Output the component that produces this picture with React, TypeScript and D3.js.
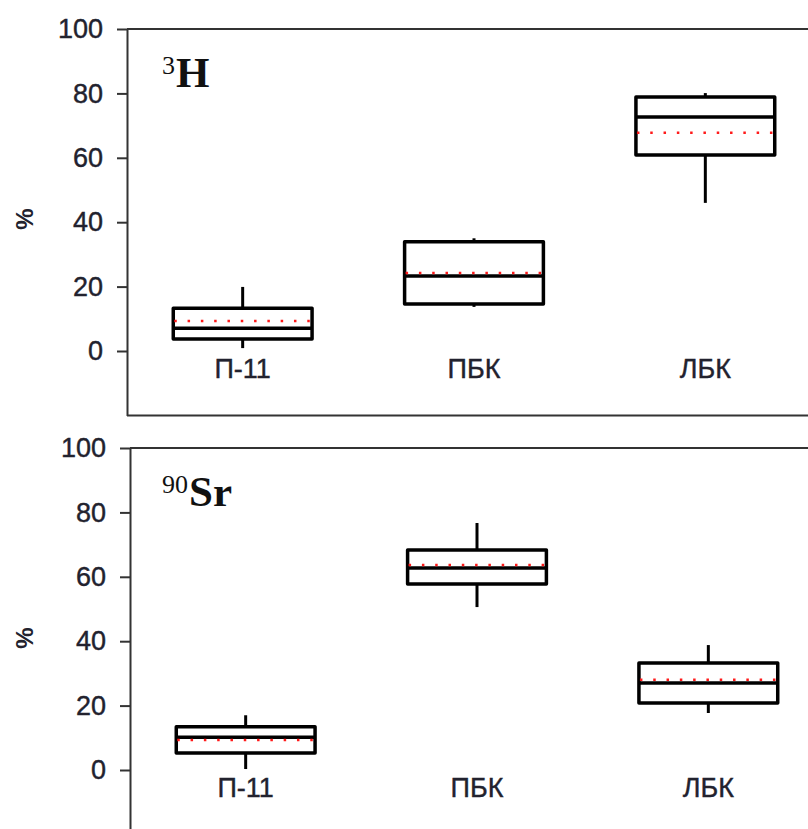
import React, { useRef, useEffect } from 'react';
import * as d3 from 'd3';

const categories = ['П-11', 'ПБК', 'ЛБК'];
const yTicks = [0, 20, 40, 60, 80, 100];

// 3H panel
const h3Low = [0.9, 13.7, 46];
const h3Q1 = [3.7, 14.6, 60.9];
const h3Median = [7.1, 23.3, 72.7];
const h3Q3 = [13.3, 33.9, 78.9];
const h3High = [19.9, 35, 80.1];
const h3Mean = [9.3, 24.2, 67.8];

// 90Sr panel
const srLow = [0.3, 50.6, 17.7];
const srQ1 = [5.3, 57.8, 20.8];
const srMedian = [10.2, 62.7, 27];
const srQ3 = [13.4, 68.3, 33.2];
const srHigh = [17, 76.7, 38.8];
const srMean = [9.3, 63.7, 28];

type Box = { cat: string; low: number; q1: number; median: number; q3: number; high: number; mean: number };

const toBoxes = (low: number[], q1: number[], median: number[], q3: number[], high: number[], mean: number[]): Box[] =>
  categories.map((cat, i) => ({ cat, low: low[i], q1: q1[i], median: median[i], q3: q3[i], high: high[i], mean: mean[i] }));

const WIDTH = 808;
const HEIGHT = 829;
const textColor = '#22222e';

const App = () => {
  const ref = useRef<SVGSVGElement>(null);

  useEffect(() => {
    const svg = d3.select(ref.current);
    svg.selectAll('*').remove();

    const panels = [
      { axisX: 127, yTop: 29, yZero: 351, mass: '3', symbol: 'H', boxes: toBoxes(h3Low, h3Q1, h3Median, h3Q3, h3High, h3Mean), bottomLine: true },
      { axisX: 130, yTop: 448, yZero: 770, mass: '90', symbol: 'Sr', boxes: toBoxes(srLow, srQ1, srMedian, srQ3, srHigh, srMean), bottomLine: false },
    ];

    panels.forEach(p => {
      const g = svg.append('g');
      const y = d3.scaleLinear()
        .domain([-20, 100])
        .range([p.yZero + (p.yZero - p.yTop) * 0.2, p.yTop]);
      const x = d3.scaleBand()
        .domain(categories)
        .range([p.axisX, p.axisX + 694]);
      const boxW = x.bandwidth() * 0.6;

      // frame lines
      g.append('line')
        .attr('x1', p.axisX).attr('x2', WIDTH)
        .attr('y1', y(100)).attr('y2', y(100))
        .attr('stroke', '#333').attr('stroke-width', 2);
      if (p.bottomLine) {
        g.append('line')
          .attr('x1', p.axisX).attr('x2', WIDTH)
          .attr('y1', y(-20)).attr('y2', y(-20))
          .attr('stroke', '#333').attr('stroke-width', 2);
      }

      g.append('g')
        .attr('transform', `translate(${p.axisX},0)`)
        .call(d3.axisLeft(y).tickValues(yTicks).tickSize(10).tickPadding(14).tickSizeOuter(0))
        .call(a => a.select('.domain').attr('stroke', '#333').attr('stroke-width', 2))
        .call(a => a.selectAll('.tick line').attr('stroke', '#333').attr('stroke-width', 2))
        .call(a => a.selectAll('.tick text')
          .attr('fill', textColor)
          .attr('stroke', textColor)
          .attr('stroke-width', 0.4)
          .style('font-family', 'Liberation Sans, Arial, sans-serif')
          .style('font-size', '27px'));

      // y title
      g.append('text')
        .attr('transform', `translate(33,${y(40) - 3}) rotate(-90)`)
        .attr('text-anchor', 'middle')
        .attr('fill', textColor)
        .style('font-family', 'Liberation Sans, Arial, sans-serif')
        .style('font-size', '24px')
        .style('font-weight', 'bold')
        .text('%');

      // isotope label
      const lbl = g.append('text')
        .attr('x', 162)
        .attr('y', y(80) - 6)
        .attr('fill', '#111')
        .style('font-family', 'Liberation Serif, Times New Roman, serif')
        .style('font-weight', 'bold');
      lbl.append('tspan').attr('dy', -13).style('font-size', '26px').style('font-weight', 'normal').text(p.mass);
      lbl.append('tspan').attr('dy', 13).attr('dx', 1).style('font-size', '43px').text(p.symbol);

      // category labels
      g.selectAll('.cat')
        .data(categories)
        .enter()
        .append('text')
        .attr('x', d => (x(d) as number) + x.bandwidth() / 2)
        .attr('y', y(0) + 27)
        .attr('text-anchor', 'middle')
        .attr('fill', textColor)
        .attr('stroke', textColor)
        .attr('stroke-width', 0.4)
        .style('font-family', 'Liberation Sans, Arial, sans-serif')
        .style('font-size', '27px')
        .text(d => d);

      const bg = g.selectAll('.box')
        .data(p.boxes)
        .enter()
        .append('g')
        .attr('transform', d => `translate(${(x(d.cat) as number) + x.bandwidth() / 2},0)`);

      bg.append('line')
        .attr('x1', 0).attr('x2', 0)
        .attr('y1', d => y(d.high)).attr('y2', d => y(d.q3))
        .attr('stroke', '#000').attr('stroke-width', 3);
      bg.append('line')
        .attr('x1', 0).attr('x2', 0)
        .attr('y1', d => y(d.q1)).attr('y2', d => y(d.low))
        .attr('stroke', '#000').attr('stroke-width', 3);
      bg.append('rect')
        .attr('x', -boxW / 2)
        .attr('width', boxW)
        .attr('y', d => y(d.q3))
        .attr('height', d => y(d.q1) - y(d.q3))
        .attr('fill', 'white')
        .attr('stroke', '#000')
        .attr('stroke-width', 3.5)
        .attr('stroke-linejoin', 'round');
      bg.append('line')
        .attr('x1', -boxW / 2).attr('x2', boxW / 2)
        .attr('y1', d => y(d.median)).attr('y2', d => y(d.median))
        .attr('stroke', '#000').attr('stroke-width', 3.5);
      bg.append('line')
        .attr('x1', -boxW / 2 + 1).attr('x2', boxW / 2)
        .attr('y1', d => y(d.mean)).attr('y2', d => y(d.mean))
        .attr('stroke', '#ff1a1a').attr('stroke-width', 2.5)
        .attr('stroke-dasharray', '2.5 10.8');
    });
  }, []);

  return (
    <svg
      ref={ref}
      width={WIDTH}
      height={HEIGHT}
      style={{ position: 'absolute', left: 0, top: 0, background: 'white' }}
    />
  );
};

export default App;
